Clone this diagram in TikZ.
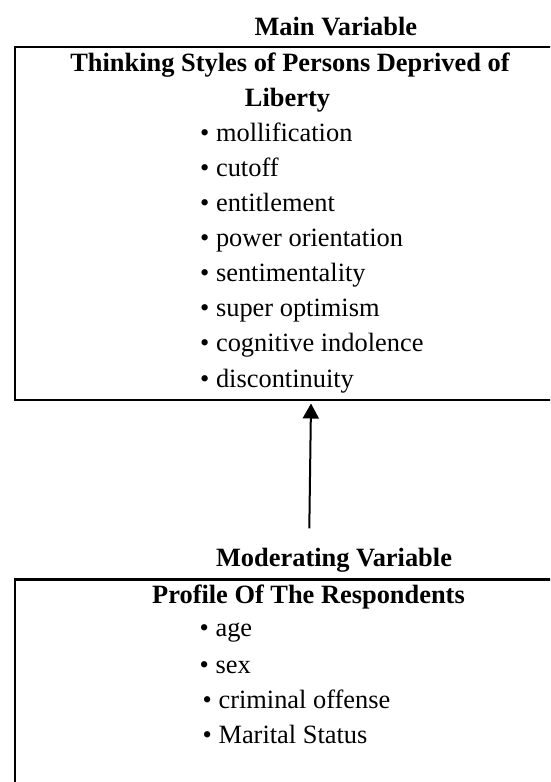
\documentclass[tikz,border=0pt]{standalone}
\usepackage{fontspec}
\setmainfont{Liberation Serif}
\usetikzlibrary{arrows.meta}
\begin{document}
\begin{tikzpicture}[x=1pt,y=-1pt,
  boxframe/.style={draw=black,line width=2.4pt,rectangle,inner sep=0pt},
  headtxt/.style={font=\fontsize{26.4}{32}\selectfont\bfseries,inner sep=0pt,anchor=base},
  itemtxt/.style={font=\fontsize{26.4}{32}\selectfont,inner sep=0pt,anchor=base west},
  arr/.style={line width=2pt,-{Triangle[length=15pt,width=16pt]}}]
\useasboundingbox (0,0) rectangle (550,782);
\clip (0,0) rectangle (550,782);
% boxes (extend past the right / bottom edge as in the reference)
\node[boxframe,minimum width=600pt,minimum height=353.3pt,anchor=north west] (main) at (14,45.7) {};
\node[boxframe,minimum width=600pt,minimum height=300pt,anchor=north west] (mod) at (14,578.3) {};
% top labels
\node[headtxt] (mainlbl) at (335.8,35) {Main Variable};
\node[headtxt] (t1) at (290,71.7) {Thinking Styles of Persons Deprived of};
\node[headtxt] (t2) at (287.5,106.7) {Liberty};
\node[itemtxt] (i1) at (200,141.7) {• mollification};
\node[itemtxt] (i2) at (200,176.7) {• cutoff};
\node[itemtxt] (i3) at (200,211.7) {• entitlement};
\node[itemtxt] (i4) at (200,246.7) {• power orientation};
\node[itemtxt] (i5) at (200,281.7) {• sentimentality};
\node[itemtxt] (i6) at (200,316.7) {• super optimism};
\node[itemtxt] (i7) at (200,351.7) {• cognitive indolence};
\node[itemtxt] (i8) at (200,387) {• discontinuity};
% bottom labels
\node[headtxt] (modlbl) at (334,566.7) {Moderating Variable};
\node[headtxt] (p1) at (308.5,603.3) {Profile Of The Respondents};
\node[itemtxt] (j1) at (199.5,636.7) {• age};
\node[itemtxt] (j2) at (199.5,673.3) {• sex};
\node[itemtxt] (j3) at (202.5,708.3) {• criminal offense};
\node[itemtxt] (j4) at (202.5,743.3) {• Marital Status};
% arrow
\coordinate (tail) at (309.3,528.3);
\coordinate (tip) at (311,403.5);
\draw[arr] (tail) -- (tip);
\end{tikzpicture}
\end{document}
